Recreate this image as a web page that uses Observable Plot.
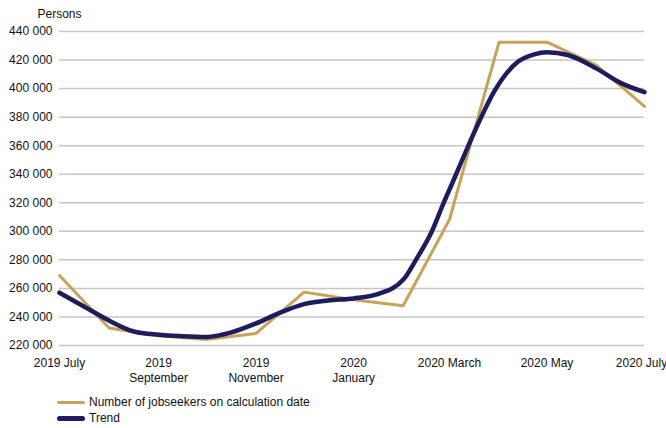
<!DOCTYPE html>
<html>
<head>
<meta charset="utf-8">
<script src="https://cdn.jsdelivr.net/npm/d3@7"></script>
<script src="https://cdn.jsdelivr.net/npm/@observablehq/plot@0.6"></script>
<style>
  body { margin: 0; background: #fff; font-family: "Liberation Sans", Arial, sans-serif; }
  #legend { font-size: 12px; color: #111; margin-left: 57px; margin-top: 8px; }
  .item { display: flex; align-items: center; height: 16px; }
  .sw { width: 28px; margin-right: 4px; border-radius: 3px; }
</style>
</head>
<body>
<div id="chart"></div>
<div id="legend"></div>
<script>
const monthDates = ["2019-07-01","2019-08-01","2019-09-01","2019-10-01","2019-11-01","2019-12-01","2020-01-01","2020-02-01","2020-03-01","2020-04-01","2020-05-01","2020-06-01","2020-07-01"];
const jobseekers = [269000,232300,226800,224200,228500,257400,252000,247800,308300,432500,432500,416300,387500];

const trendDates = ["2019-07-01","2019-07-16","2019-08-01","2019-08-16","2019-09-01","2019-09-16","2019-10-01","2019-10-16","2019-11-01","2019-11-16","2019-12-01","2019-12-16","2020-01-01","2020-01-16","2020-02-01","2020-02-09","2020-02-19","2020-02-26","2020-03-04","2020-03-12","2020-03-20","2020-03-29","2020-04-13","2020-04-23","2020-05-01","2020-05-14","2020-06-01","2020-06-16","2020-07-01"];
const trendValues = [257000,247500,237500,230000,227500,226500,226000,229000,235500,243000,249000,251500,253000,256000,266000,280000,300000,319000,337000,358000,378000,398000,419000,424000,425400,423500,414000,404000,397500];

const yTicks = [220000,240000,260000,280000,300000,320000,340000,360000,380000,400000,420000,440000];
const xTickDates = ["2019-07-01","2019-09-01","2019-11-01","2020-01-01","2020-03-01","2020-05-01","2020-07-01"];
const xTickLabels = ["2019 July","2019\nSeptember","2019\nNovember","2020\nJanuary","2020 March","2020 May","2020 July"];

const seriesNames = ["Number of jobseekers on calculation date","Trend"];
const seriesColors = ["#c9a257","#1f1c5e"];

const gold = monthDates.map((d,i) => ({date: new Date(d), value: jobseekers[i]}));
const trend = trendDates.map((d,i) => ({date: new Date(d), value: trendValues[i]}));
const xTickRows = xTickDates.map((d,i) => ({date: new Date(d), label: xTickLabels[i]}));
const lastTick = xTickRows.length - 1;
const fmt = v => d3.format(",")(v).replace(/,/g, " ");

const chart = Plot.plot({
  width: 666,
  height: 386,
  marginLeft: 59,
  marginRight: 22,
  marginTop: 31,
  marginBottom: 41,
  style: {fontFamily: "Liberation Sans, Arial, sans-serif", fontSize: "12px", color: "#111", background: "#fff"},
  x: {type: "utc", axis: null, domain: [new Date(monthDates[0]), new Date(monthDates[monthDates.length-1])]},
  y: {domain: [220000, 440000]},
  marks: [
    Plot.ruleY(yTicks, {stroke: "#c6c6c6", strokeWidth: 1.5}),
    Plot.axisY({ticks: yTicks, tickSize: 0, tickPadding: 7, tickFormat: fmt, label: null}),
    Plot.text(xTickRows.slice(0, lastTick), {x: "date", text: "label", frameAnchor: "bottom", lineAnchor: "top", dy: 11, lineHeight: 1.25, fill: "#111"}),
    Plot.text(xTickRows.slice(lastTick), {x: "date", text: "label", frameAnchor: "bottom", lineAnchor: "top", dy: 11, dx: -3, lineHeight: 1.25, fill: "#111"}),
    Plot.text(["Persons"], {frameAnchor: "top-left", dx: -22, dy: -17, textAnchor: "start", lineAnchor: "middle", fontSize: 12}),
    Plot.line(gold, {x: "date", y: "value", stroke: seriesColors[0], strokeWidth: 3}),
    Plot.line(trend, {x: "date", y: "value", stroke: seriesColors[1], strokeWidth: 4.5, curve: "monotone-x"})
  ]
});
document.getElementById("chart").appendChild(chart);

const legend = document.getElementById("legend");
seriesNames.forEach((name, i) => {
  const item = document.createElement("div");
  item.className = "item";
  const sw = document.createElement("span");
  sw.className = "sw";
  sw.style.background = seriesColors[i];
  sw.style.height = i === 0 ? "3px" : "5px";
  const t = document.createElement("span");
  t.textContent = name;
  item.appendChild(sw); item.appendChild(t);
  legend.appendChild(item);
});
</script>
</body>
</html>
